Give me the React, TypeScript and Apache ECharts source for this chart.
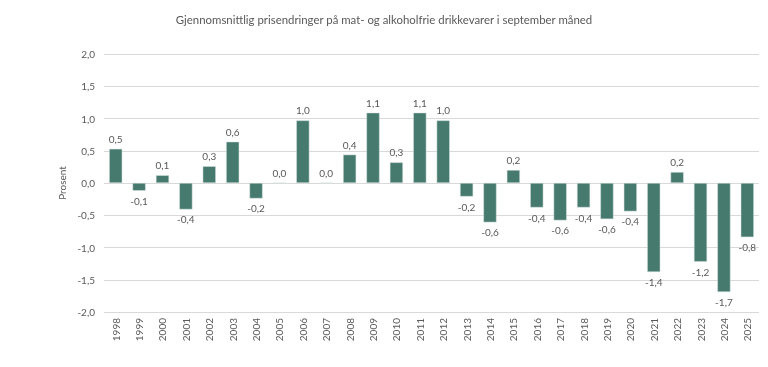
import React, { useEffect, useRef } from "react";
import * as echarts from "echarts";

const years = ["1998","1999","2000","2001","2002","2003","2004","2005","2006","2007","2008","2009","2010","2011","2012","2013","2014","2015","2016","2017","2018","2019","2020","2021","2022","2023","2024","2025"];
const values = [0.53,-0.12,0.12,-0.41,0.26,0.64,-0.24,0.0,0.97,0.0,0.44,1.09,0.32,1.09,0.97,-0.21,-0.61,0.2,-0.38,-0.58,-0.38,-0.56,-0.44,-1.38,0.17,-1.22,-1.69,-0.84];
const yTicks = { min: -2, max: 2, interval: 0.5 };
const titleText = "Gjennomsnittlig prisendringer på mat- og alkoholfrie drikkevarer i september måned";
const yName = "Prosent";

const fmt = (v: number) => v.toFixed(1).replace(".", ",");

export default function App() {
  const ref = useRef<HTMLDivElement>(null);
  useEffect(() => {
    const chart = echarts.init(ref.current!, null, { renderer: "svg" });
    const gray = "#595959";
    chart.setOption({
      animation: false,
      textStyle: { fontFamily: "Lato" },
      title: {
        text: titleText,
        left: "center",
        top: 9,
        textStyle: { fontSize: 11.4, fontWeight: "normal", color: gray, fontFamily: "Lato" },
      },
      grid: { left: 104, right: 9, top: 54, bottom: 55, containLabel: false },
      xAxis: {
        type: "category",
        data: years,
        axisLine: { show: false },
        axisTick: { show: false },
        axisLabel: { rotate: 90, color: gray, fontSize: 10, margin: 6, interval: 0 },
      },
      yAxis: {
        type: "value",
        min: yTicks.min,
        max: yTicks.max,
        interval: yTicks.interval,
        name: yName,
        nameLocation: "middle",
        nameGap: 28,
        nameTextStyle: { color: gray, fontSize: 10 },
        axisLabel: { color: gray, fontSize: 10, margin: 9, formatter: (v: number) => fmt(v) },
        splitLine: { lineStyle: { color: "#d9d9d9", width: 1 } },
        axisLine: { show: false },
        axisTick: { show: false },
      },
      series: [
        {
          type: "bar",
          barWidth: "56%",
          data: values.map((v) => ({
            value: v,
            label: { position: v < 0 ? "bottom" : "top" },
          })),
          itemStyle: { color: "#467a6f", borderColor: "#d6e3df", borderWidth: 0.5 },
          label: {
            show: true,
            color: gray,
            fontSize: 10,
            distance: 5,
            formatter: (p: any) => fmt(p.value),
          },
        },
      ],
    });
    return () => chart.dispose();
  }, []);
  return <div ref={ref} style={{ position: "fixed", left: 0, top: 0, width: 768, height: 367 }} />;
}
